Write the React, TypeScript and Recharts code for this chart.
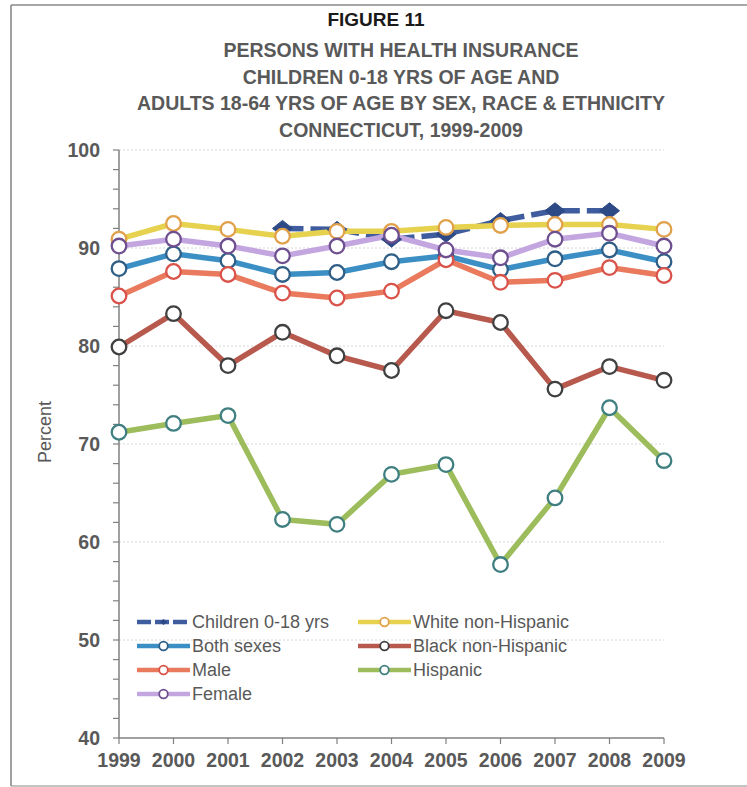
import React from 'react';
import { LineChart, Line, XAxis, YAxis, CartesianGrid } from 'recharts';

// Years on the category axis
const years = ['1999', '2000', '2001', '2002', '2003', '2004', '2005', '2006', '2007', '2008', '2009'];

// Percent of persons with health insurance, by group
const children: (number | null)[] = [null, null, null, 92.0, 91.9, 90.9, 91.4, 92.8, 93.8, 93.8, null];
const bothSexes = [87.9, 89.4, 88.7, 87.3, 87.5, 88.6, 89.2, 87.8, 88.9, 89.8, 88.6];
const male = [85.1, 87.6, 87.3, 85.4, 84.9, 85.6, 88.8, 86.5, 86.7, 88.0, 87.2];
const female = [90.2, 90.9, 90.2, 89.2, 90.2, 91.3, 89.8, 89.0, 90.9, 91.5, 90.2];
const whiteNH = [90.9, 92.5, 91.9, 91.2, 91.7, 91.7, 92.1, 92.3, 92.4, 92.4, 91.9];
const blackNH = [79.9, 83.3, 78.0, 81.4, 79.0, 77.5, 83.6, 82.4, 75.6, 77.9, 76.5];
const hispanic = [71.2, 72.1, 72.9, 62.3, 61.8, 66.9, 67.9, 57.7, 64.5, 73.7, 68.3];

// Y axis ticks: minor every 2, labelled every 10
const yTicks = [40, 42, 44, 46, 48, 50, 52, 54, 56, 58, 60, 62, 64, 66, 68, 70, 72, 74, 76, 78, 80, 82, 84, 86, 88, 90, 92, 94, 96, 98, 100];
const gridValues = [50, 60, 70, 80, 90, 100];

const titleLines = [
  'PERSONS WITH HEALTH INSURANCE',
  'CHILDREN 0-18 YRS OF AGE AND',
  'ADULTS 18-64 YRS OF AGE BY SEX, RACE & ETHNICITY',
  'CONNECTICUT, 1999-2009',
];

const data = years.map((year, i) => ({
  year,
  children: children[i],
  both: bothSexes[i],
  male: male[i],
  female: female[i],
  white: whiteNH[i],
  black: blackNH[i],
  hispanic: hispanic[i],
}));

const FONT = '"Liberation Sans", Arial, sans-serif';
const GRAY = '#595959';

type SeriesDef = { key: string; name: string; line: string; mark: string; dashed?: boolean };

const series: SeriesDef[] = [
  { key: 'children', name: 'Children 0-18 yrs', line: '#3f5d9e', mark: '#2d4a87', dashed: true },
  { key: 'white', name: 'White non-Hispanic', line: '#e6d24e', mark: '#e1a04a' },
  { key: 'both', name: 'Both sexes', line: '#3b8fc4', mark: '#2f5e86' },
  { key: 'male', name: 'Male', line: '#e97a5e', mark: '#d9534a' },
  { key: 'female', name: 'Female', line: '#c3a6e0', mark: '#6e4f8f' },
  { key: 'black', name: 'Black non-Hispanic', line: '#b8594e', mark: '#404040' },
  { key: 'hispanic', name: 'Hispanic', line: '#9dbc5c', mark: '#3f7f80' },
];

const legendCols: string[][] = [
  ['children', 'both', 'male', 'female'],
  ['white', 'black', 'hispanic'],
];

const circleDot = (stroke: string) => (props: any) => {
  const { cx, cy, index } = props;
  if (cx == null || cy == null || props.value == null) return <g key={`d${index}`} />;
  return <circle key={`d${index}`} cx={cx} cy={cy} r={7.3} fill="#ffffff" stroke={stroke} strokeWidth={2.3} />;
};

const diamondDot = (fill: string) => (props: any) => {
  const { cx, cy, index } = props;
  if (cx == null || cy == null || props.value == null) return <g key={`d${index}`} />;
  return (
    <polygon
      key={`d${index}`}
      points={`${cx - 10},${cy} ${cx},${cy - 8} ${cx + 10},${cy} ${cx},${cy + 8}`}
      fill={fill}
      stroke={fill}
      strokeWidth={1}
    />
  );
};

const yTickFmt = (v: number) => (v % 10 === 0 ? String(v) : '');

export default function App() {
  const colX = [137, 358];
  const rowY = [622, 646, 670, 694];
  return (
    <div style={{ position: 'absolute', left: 0, top: 0, width: 747, height: 787, background: '#ffffff', overflow: 'hidden' }}>
      <LineChart
        width={747}
        height={787}
        data={data}
        margin={{ top: 150, right: 83, bottom: 0, left: 0 }}
      >
        <CartesianGrid
          horizontal
          vertical={false}
          horizontalValues={gridValues}
          stroke="#d6d6d6"
          strokeDasharray="2 2"
        />
        <XAxis
          dataKey="year"
          type="category"
          interval={0}
          height={49}
          tickSize={6}
          tickMargin={9}
          axisLine={{ stroke: '#808080', strokeWidth: 1.5 }}
          tickLine={{ stroke: '#808080', strokeWidth: 1.2 }}
          tick={{ fill: GRAY, fontSize: 19.5, fontWeight: 700, fontFamily: FONT }}
        />
        <YAxis
          type="number"
          domain={[40, 100]}
          ticks={yTicks}
          interval={0}
          width={119}
          tickSize={6}
          tickMargin={13}
          tickFormatter={yTickFmt}
          axisLine={{ stroke: '#808080', strokeWidth: 1.5 }}
          tickLine={{ stroke: '#808080', strokeWidth: 1.2 }}
          tick={{ fill: GRAY, fontSize: 19.5, fontWeight: 700, fontFamily: FONT }}
        />
        {series.map((s) => (
          <Line
            key={s.key}
            dataKey={s.key}
            name={s.name}
            type="linear"
            stroke={s.line}
            strokeWidth={5.5}
            strokeDasharray={s.dashed ? '21 7' : undefined}
            connectNulls={false}
            dot={s.dashed ? diamondDot(s.mark) : circleDot(s.mark)}
            activeDot={false}
            isAnimationActive={false}
          />
        ))}
      </LineChart>

      <svg
        width={747}
        height={787}
        style={{ position: 'absolute', left: 0, top: 0, pointerEvents: 'none' }}
      >
        {/* figure frame */}
        <line x1={11} y1={5} x2={747} y2={5} stroke="#8a8a8a" strokeWidth={1.6} />
        <line x1={11} y1={5} x2={11} y2={786} stroke="#8a8a8a" strokeWidth={1.6} />
        <line x1={11} y1={786} x2={747} y2={786} stroke="#8a8a8a" strokeWidth={1.2} />

        {/* title block */}
        <text x={376} y={19} textAnchor="middle" dominantBaseline="central" fontFamily={FONT} fontSize={19} fontWeight={700} fill="#1a1a1a">
          FIGURE 11
        </text>
        {titleLines.map((t, i) => (
          <text
            key={t}
            x={401}
            y={50 + i * 26.7}
            textAnchor="middle"
            dominantBaseline="central"
            fontFamily={FONT}
            fontSize={19.5}
            fontWeight={700}
            fill={GRAY}
          >
            {t}
          </text>
        ))}

        {/* y axis title */}
        <text
          x={45}
          y={432}
          transform="rotate(-90 45 432)"
          textAnchor="middle"
          dominantBaseline="central"
          fontFamily={FONT}
          fontSize={18}
          fill={GRAY}
        >
          Percent
        </text>

        {/* legend */}
        {legendCols.map((col, ci) =>
          col.map((key, ri) => {
            const s = series.find((x) => x.key === key)!;
            const x0 = colX[ci];
            const y = rowY[ri];
            return (
              <g key={key}>
                <line
                  x1={x0}
                  y1={y}
                  x2={x0 + 53}
                  y2={y}
                  stroke={s.line}
                  strokeWidth={4.5}
                  strokeDasharray={s.dashed ? '14 4' : undefined}
                />
                {s.dashed ? (
                  <polygon
                    points={`${x0 + 23},${y} ${x0 + 26.5},${y - 3} ${x0 + 30},${y} ${x0 + 26.5},${y + 3}`}
                    fill={s.mark}
                  />
                ) : (
                  <circle cx={x0 + 26.5} cy={y} r={4.3} fill="#ffffff" stroke={s.mark} strokeWidth={1.8} />
                )}
                <text
                  x={x0 + 55}
                  y={y}
                  dominantBaseline="central"
                  fontFamily={FONT}
                  fontSize={18}
                  fill={GRAY}
                >
                  {s.name}
                </text>
              </g>
            );
          })
        )}
      </svg>
    </div>
  );
}
